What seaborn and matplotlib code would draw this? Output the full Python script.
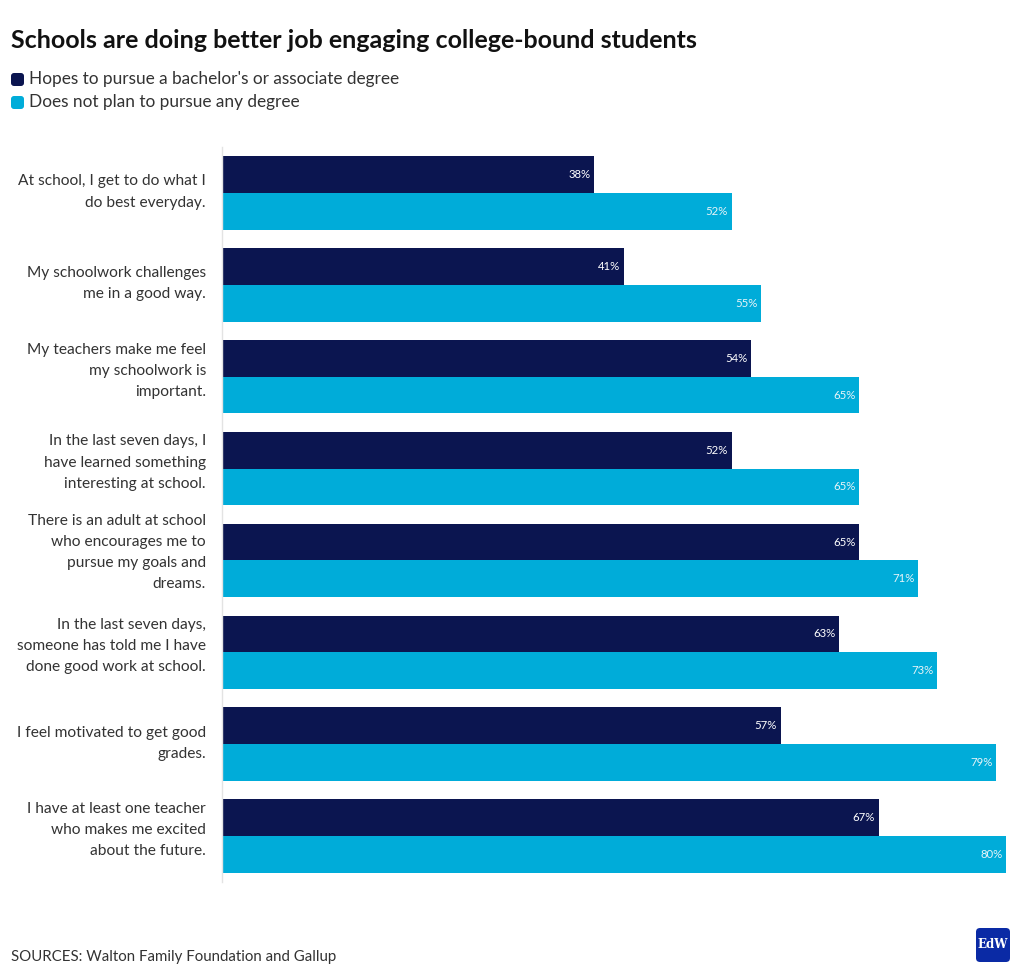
import matplotlib
matplotlib.use("Agg")
import matplotlib.pyplot as plt
import matplotlib.transforms as mtransforms
import seaborn as sns
import pandas as pd
from matplotlib.patches import FancyBboxPatch

statements = [
    "At school, I get to do what I\ndo best everyday.",
    "My schoolwork challenges\nme in a good way.",
    "My teachers make me feel\nmy schoolwork is\nimportant.",
    "In the last seven days, I\nhave learned something\ninteresting at school.",
    "There is an adult at school\nwho encourages me to\npursue my goals and\ndreams.",
    "In the last seven days,\nsomeone has told me I have\ndone good work at school.",
    "I feel motivated to get good\ngrades.",
    "I have at least one teacher\nwho makes me excited\nabout the future.",
]
hopes_degree = [38, 41, 54, 52, 65, 63, 57, 67]
no_degree = [52, 55, 65, 65, 71, 73, 79, 80]
series_names = ["Hopes to pursue a bachelor's or associate degree",
                "Does not plan to pursue any degree"]
colors = ["#0b1550", "#00acd9"]

df = pd.DataFrame({
    "statement": statements * 2,
    "value": hopes_degree + no_degree,
    "group": [series_names[0]] * len(statements) + [series_names[1]] * len(statements),
})

sns.set_theme(style="white")
plt.rcParams["font.family"] = ["Lato", "DejaVu Sans"]

W, H = 1020, 976
fig = plt.figure(figsize=(W / 100, H / 100), dpi=100)
ax = fig.add_axes([222 / W, 1 - 882 / H, (1006 - 222) / W, (882 - 147) / H])

sns.barplot(data=df, y="statement", x="value", hue="group", orient="h",
            palette=colors, hue_order=series_names, order=statements,
            width=0.8, saturation=1, legend=False, ax=ax, linewidth=0)

ax.set_xlim(0, 80)
ax.set_ylim(len(statements) - 0.5, -0.5)
ax.set_xlabel("")
ax.set_ylabel("")
ax.set_xticks([])
ax.tick_params(axis="y", length=0, labelleft=False)
for s in ["top", "right", "bottom"]:
    ax.spines[s].set_visible(False)
ax.spines["left"].set_color("#e3e3e3")
ax.spines["left"].set_linewidth(1)

# category labels, right-aligned left of the axis
blend = mtransforms.blended_transform_factory(ax.transAxes, ax.transData)
for i, lab in enumerate(statements):
    n = lab.count("\n") + 1
    dy = {1: 0, 2: 1, 3: 6, 4: 8}.get(n, 8)
    tr = blend + mtransforms.ScaledTranslation(-16 / 100, dy / 100, fig.dpi_scale_trans)
    ax.text(0, i, lab, transform=tr, ha="right", va="center", multialignment="right",
            fontsize=11.2, color="#333333", linespacing=1.65)

label_colors = ["#ffffff", "#e8f4f8"]
for ci, cont in enumerate(ax.containers):
    texts = ax.bar_label(cont, labels=[f"{int(v)}%" for v in cont.datavalues],
                         padding=-2.5, color=label_colors[ci], fontsize=8.2,
                         label_type="edge")
    for t in texts:
        t.set_horizontalalignment("right")

fig.text(11 / W, 1 - 40 / H, "Schools are doing better job engaging college-bound students",
         fontsize=18, fontweight="bold", color="#111111", va="center")

for i, (name, c) in enumerate(zip(series_names, colors)):
    y = 79 + i * 23
    fig.patches.append(FancyBboxPatch((11 / W, 1 - (y + 7) / H), 13 / W, 13 / H,
                                      boxstyle="round,pad=0,rounding_size=0.003",
                                      transform=fig.transFigure, color=c, ec="none"))
    fig.text(29 / W, 1 - y / H, name, fontsize=12.4, color="#333333", va="center")

fig.text(11 / W, 1 - 957 / H, "SOURCES: Walton Family Foundation and Gallup",
         fontsize=10.8, color="#333333", va="center")

fig.patches.append(FancyBboxPatch((976 / W, 1 - 962 / H), 34 / W, 34 / H,
                                  boxstyle="round,pad=0,rounding_size=0.004",
                                  transform=fig.transFigure, color="#0a2aa5", ec="none"))
fig.text(993 / W, 1 - 945 / H, "EdW", fontsize=8.5, color="white", family="DejaVu Serif",
         ha="center", va="center", fontweight="bold")

fig.savefig("out.png", dpi=100, facecolor="white")
